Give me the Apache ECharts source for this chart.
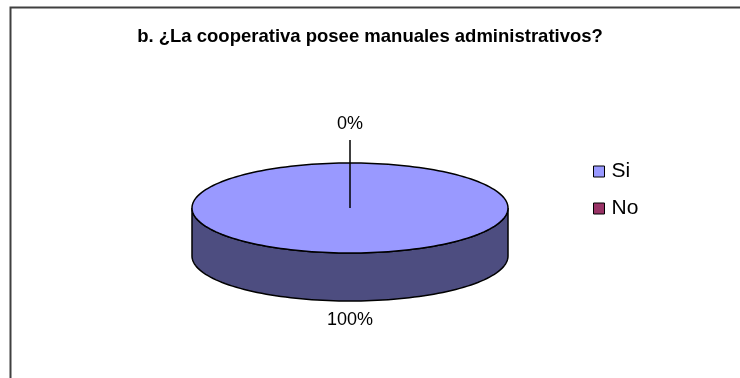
<!DOCTYPE html>
<html>
<head>
<meta charset="utf-8">
<style>
  html, body { margin: 0; padding: 0; background: #fff; }
  #chart { width: 740px; height: 378px; }
</style>
<script src="https://cdn.jsdelivr.net/npm/echarts@6/dist/echarts.min.js"></script>
</head>
<body>
<div id="chart"></div>
<script>
// Survey answers
const categories = ['Si', 'No'];
const values = [100, 0];
const titleText = 'b. ¿La cooperativa posee manuales administrativos?';

// Slice colours: top face and darker side wall
const topColors = ['#9999FF', '#993366'];
const sideColors = ['#4D4D80', '#4D1A33'];

// 3D pie geometry (pixels)
const PIE = { cx: 350, cy: 208, rx: 158, ry: 45, depth: 48 };
const LABEL_GAP = 19;
const LEADER = { reach: 23, labelGap: 39 };
const FONT = '"Liberation Sans", Arial, sans-serif';

const total = values.reduce((a, b) => a + b, 0);
const starts = [];
values.reduce((acc, v, i) => { starts[i] = acc; return acc + v; }, 0);

// angle measured clockwise from 12 o'clock
function pt(a, dy) {
  return [PIE.cx + PIE.rx * Math.sin(a), PIE.cy - PIE.ry * Math.cos(a) + (dy || 0)];
}
function arcPts(a0, a1, dy) {
  const n = Math.max(2, Math.ceil(Math.abs(a1 - a0) / (Math.PI / 90)));
  const out = [];
  for (let k = 0; k <= n; k++) out.push(pt(a0 + (a1 - a0) * k / n, dy));
  return out;
}

function renderSlice(i) {
  return function (params, api) {
    const v = values[i];
    const a0 = starts[i] / total * Math.PI * 2;
    const a1 = (starts[i] + v) / total * Math.PI * 2;
    const children = [];
    const stroke = { stroke: '#000', lineWidth: 1.5 };

    if (v > 0) {
      // front side wall (visible half between 3 and 9 o'clock)
      const s = Math.max(a0, Math.PI / 2), e = Math.min(a1, Math.PI * 1.5);
      if (e > s) {
        const pts = arcPts(s, e, 0).concat(arcPts(e, s, PIE.depth));
        children.push({
          type: 'polygon', z2: 1,
          shape: { points: pts },
          style: Object.assign({ fill: sideColors[i] }, stroke)
        });
      }
      // top face
      const full = (a1 - a0) >= Math.PI * 2 - 1e-9;
      const topPts = full ? arcPts(0, Math.PI * 2, 0)
                          : [[PIE.cx, PIE.cy]].concat(arcPts(a0, a1, 0));
      children.push({
        type: 'polygon', z2: 10,
        shape: { points: topPts },
        style: Object.assign({ fill: topColors[i] }, stroke)
      });
    }

    // percentage label
    const mid = (a0 + a1) / 2;
    const pct = Math.round(v / total * 100) + '%';
    const front = Math.cos(mid) < 0;
    let lx, ly;
    if (v === 0) {
      // empty slice: leader line from the centre out past the rim
      const tip = [PIE.cx + (PIE.rx + LEADER.reach) * Math.sin(mid),
                   PIE.cy - (PIE.ry + LEADER.reach) * Math.cos(mid)];
      children.push({
        type: 'line', z2: 15,
        shape: { x1: PIE.cx, y1: PIE.cy, x2: tip[0], y2: tip[1] },
        style: { stroke: '#000', lineWidth: 1.5 }
      });
      lx = PIE.cx + (PIE.rx + LEADER.labelGap) * Math.sin(mid);
      ly = PIE.cy - (PIE.ry + LEADER.labelGap) * Math.cos(mid);
    } else {
      lx = PIE.cx + (PIE.rx + LABEL_GAP) * Math.sin(mid);
      ly = PIE.cy - (PIE.ry + LABEL_GAP) * Math.cos(mid) + (front ? PIE.depth : 0);
    }
    children.push({
      type: 'text', z2: 20,
      x: lx, y: ly,
      style: {
        text: pct, fill: '#000',
        font: '18px ' + FONT,
        align: 'center', verticalAlign: 'middle'
      }
    });
    return { type: 'group', children };
  };
}

const chart = echarts.init(document.getElementById('chart'), null, { renderer: 'canvas' });
chart.setOption({
  backgroundColor: '#fff',
  animation: false,
  title: {
    text: titleText,
    left: 'center',
    top: 27,
    padding: 0,
    textStyle: {
      fontFamily: FONT,
      fontWeight: 'bold', fontSize: 18.5, color: '#000'
    }
  },
  legend: {
    orient: 'vertical',
    left: 593, top: 161,
    padding: 0,
    itemWidth: 11, itemHeight: 11,
    itemGap: 16,
    icon: 'rect',
    itemStyle: { borderColor: '#000', borderWidth: 1 },
    textStyle: {
      fontFamily: FONT,
      fontSize: 21, color: '#000', lineHeight: 21,
      padding: [0, 0, 0, 2]
    },
    data: categories
  },
  graphic: [{
    type: 'rect', silent: true, z: -1,
    shape: { x: 10.5, y: 7.5, width: 760, height: 400 },
    style: { fill: null, stroke: '#404040', lineWidth: 2 }
  }],
  series: categories.map((name, i) => ({
    type: 'custom',
    name,
    coordinateSystem: 'none',
    color: topColors[i],
    data: [values[i]],
    renderItem: renderSlice(i)
  }))
});
</script>
</body>
</html>
